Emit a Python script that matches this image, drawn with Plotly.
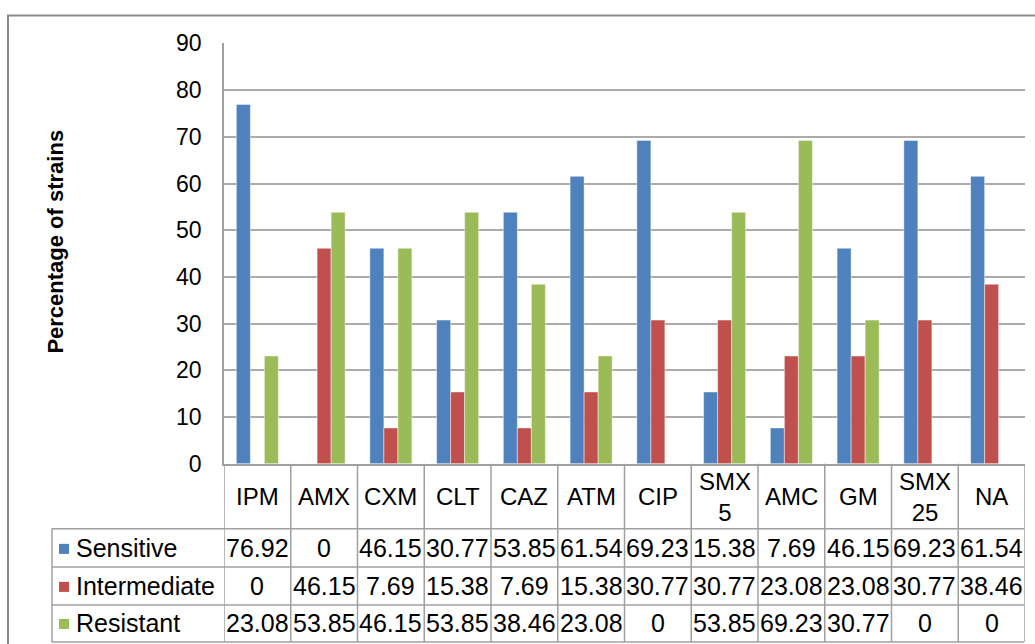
import plotly.graph_objects as go

# ---- data ----
categories = ["IPM", "AMX", "CXM", "CLT", "CAZ", "ATM", "CIP", "SMX<br>5", "AMC", "GM", "SMX<br>25", "NA"]
series_names = ["Sensitive", "Intermediate", "Resistant"]
sensitive = [76.92, 0, 46.15, 30.77, 53.85, 61.54, 69.23, 15.38, 7.69, 46.15, 69.23, 61.54]
intermediate = [0, 46.15, 7.69, 15.38, 7.69, 15.38, 30.77, 30.77, 23.08, 23.08, 30.77, 38.46]
resistant = [23.08, 53.85, 46.15, 53.85, 38.46, 23.08, 0, 53.85, 69.23, 30.77, 0, 0]
y_ticks = [0, 10, 20, 30, 40, 50, 60, 70, 80, 90]

colors = ["#4F81BD", "#C0504D", "#9BBB59"]
series_vals = [sensitive, intermediate, resistant]

W, H = 1035, 700
# observed page-to-screenshot vertical mapping: y_shot = A + B * y_page
A, B = 11.6, 0.962
FONT = "Liberation Sans"
GRID = "#ababab"
LINE = "#a0a0a0"


def px_x(p):
    return p / W


def px_y(p):
    return 1 - ((p - A) / B) / H


PLOT_L, PLOT_R, PLOT_T, PLOT_B = 224, 1025, 42, 462
ROW_LINES = [527, 565, 603, 640]
TABLE_L = 52

fig = go.Figure()
x_idx = list(range(len(categories)))
for name, vals, col in zip(series_names, series_vals, colors):
    fig.add_trace(go.Bar(
        x=x_idx, y=vals, name=name,
        marker=dict(color=col, line=dict(color="rgba(255,255,255,0.45)", width=1)),
    ))

shapes = []
annotations = []

# outer chart border
shapes.append(dict(type="rect", xref="paper", yref="paper",
                   x0=px_x(8), x1=px_x(1045), y0=px_y(14), y1=px_y(700),
                   line=dict(color="#8a8a8a", width=2), layer="below"))

# table horizontal lines
for yy in ROW_LINES:
    shapes.append(dict(type="line", xref="paper", yref="paper",
                       x0=px_x(TABLE_L), x1=px_x(PLOT_R - 1), y0=px_y(yy), y1=px_y(yy),
                       line=dict(color=LINE, width=1.5)))
# table left border
shapes.append(dict(type="line", xref="paper", yref="paper",
                   x0=px_x(TABLE_L), x1=px_x(TABLE_L), y0=px_y(ROW_LINES[0]), y1=px_y(ROW_LINES[-1]),
                   line=dict(color=LINE, width=1.5)))
# vertical category boundaries
for k in range(len(categories) + 1):
    shapes.append(dict(type="line", xref="x", yref="paper",
                       x0=k - 0.5, x1=k - 0.5, y0=px_y(PLOT_B), y1=px_y(ROW_LINES[-1]),
                       line=dict(color=LINE, width=1.5)))

# category labels
for k, c in enumerate(categories):
    annotations.append(dict(xref="x", yref="paper", x=k, y=px_y(495), text=c,
                            showarrow=False, xanchor="center", yanchor="middle",
                            font=dict(family=FONT, size=24, color="black")))

# table rows
row_centers = [546, 584, 621]
for r, (name, vals, col) in enumerate(zip(series_names, series_vals, colors)):
    yc = row_centers[r]
    shapes.append(dict(type="rect", xref="paper", yref="paper",
                       x0=px_x(59), x1=px_x(69), y0=px_y(yc - 4), y1=px_y(yc + 6),
                       fillcolor=col, line=dict(width=0)))
    annotations.append(dict(xref="paper", yref="paper", x=px_x(74), y=px_y(yc), text=name,
                            showarrow=False, xanchor="left", yanchor="middle",
                            font=dict(family=FONT, size=25, color="black")))
    for k, v in enumerate(vals):
        annotations.append(dict(xref="x", yref="paper", x=k, y=px_y(yc), text=f"{v:g}",
                                showarrow=False, xanchor="center", yanchor="middle",
                                font=dict(family=FONT, size=25, color="black")))

# y-axis title
annotations.append(dict(xref="paper", yref="paper", x=px_x(56), y=px_y(240),
                        text="<b>Percentage of strains</b>", textangle=-90,
                        showarrow=False, xanchor="center", yanchor="middle",
                        font=dict(family=FONT, size=22, color="black")))

fig.update_layout(
    width=W, height=H,
    margin=dict(l=0, r=0, t=0, b=0),
    paper_bgcolor="white", plot_bgcolor="white",
    barmode="group", bargap=0.37, bargroupgap=0,
    showlegend=False,
    shapes=shapes, annotations=annotations,
    font=dict(family=FONT, color="black"),
    xaxis=dict(domain=[px_x(PLOT_L), px_x(PLOT_R)], range=[-0.5, len(categories) - 0.5],
               showticklabels=False, showgrid=False, zeroline=False,
               showline=True, linecolor=LINE, linewidth=1.5, ticks=""),
    yaxis=dict(domain=[px_y(PLOT_B), px_y(PLOT_T)], range=[0, 90], tickvals=y_ticks,
               showgrid=True, gridcolor=GRID, gridwidth=1.5, zeroline=False,
               showline=True, linecolor=LINE, linewidth=1.5,
               ticks="outside", ticklen=16, tickcolor="rgba(0,0,0,0)",
               tickfont=dict(family=FONT, size=23, color="black")),
)

fig.write_html(
    "out.html",
    config={"displayModeBar": False},
    post_script="document.documentElement.style.margin='0';document.body.style.margin='0';"
                "document.body.style.overflow='hidden';",
)
